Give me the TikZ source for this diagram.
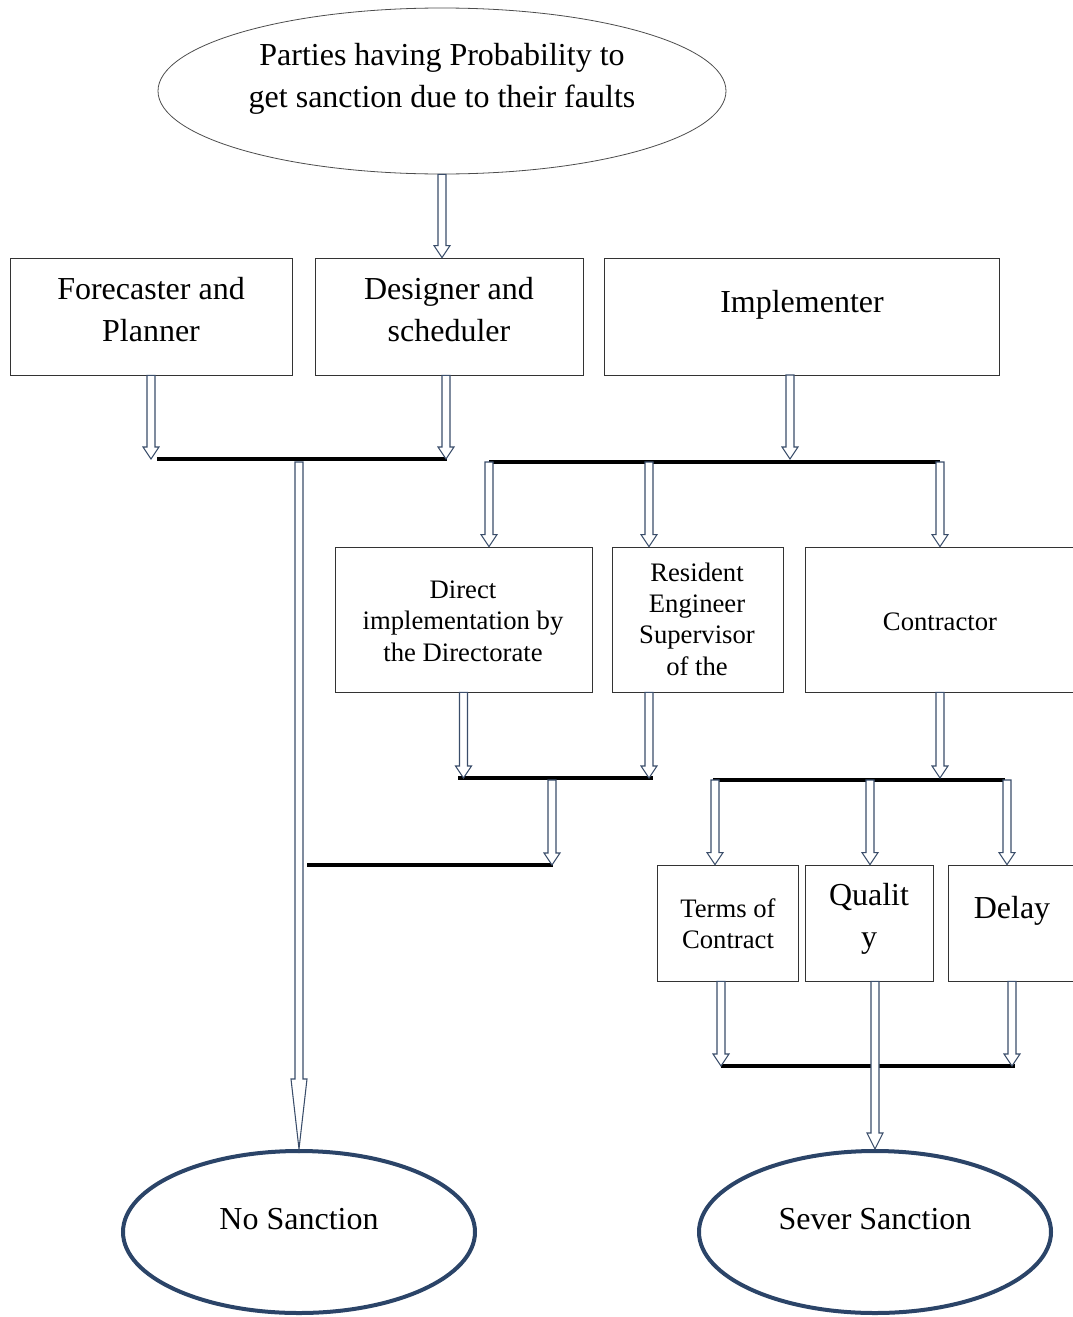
\documentclass[tikz,border=0pt]{standalone}
\usepackage{fontspec}
\setmainfont{Liberation Serif}
\usetikzlibrary{calc,shapes.geometric}
\definecolor{arrc}{HTML}{3A4D6A}
\definecolor{ellc}{HTML}{2B4468}
\tikzset{
  box/.style={draw=black!80, line width=0.6pt, rectangle, inner sep=0pt},
  topell/.style={draw=black!70, line width=0.6pt, ellipse, inner sep=0pt, minimum width=426pt, minimum height=124.5pt},
  endell/.style={draw=ellc, line width=3pt, ellipse, inner sep=0pt, minimum width=264pt, minimum height=121.5pt},
  bigtxt/.style={font=\fontsize{24}{31.5}\selectfont, align=center, inner sep=0pt},
  smalltxt/.style={font=\fontsize{20}{23.5}\selectfont, align=center, inner sep=0pt},
  hollow/.style={draw=arrc, fill=white, line width=0.8pt, line join=miter},
  bus/.style={line width=3pt, black}
}
\newcommand\harrow[3][9pt]{%
  \draw[hollow] let \p1=(#2), \p2=(#3) in
    (\x1-3pt,\y1) -- (\x1-3pt,\y2+#1) -- (\x1-6pt,\y2+#1) -- (\x1,\y2)
    -- (\x1+6pt,\y2+#1) -- (\x1+3pt,\y2+#1) -- (\x1+3pt,\y1) -- cycle;}
\begin{document}
\begin{tikzpicture}[x=0.75pt,y=-0.75pt]
\useasboundingbox (0,0) rectangle (1073,1317);
% shapes
\node[topell] (top) at (442,91) {};
\node[box, minimum width=211.5pt, minimum height=87.75pt] (fc) at (151,316.5) {};
\node[box, minimum width=201pt, minimum height=87.75pt] (des) at (449,316.5) {};
\node[box, minimum width=296.25pt, minimum height=87.75pt] (imp) at (801.5,316.5) {};
\node[box, minimum width=192.75pt, minimum height=108.75pt] (dir) at (463.5,619.5) {};
\node[box, minimum width=128.25pt, minimum height=108.75pt] (res) at (697.5,619.5) {};
\node[box, minimum width=202.5pt, minimum height=108.75pt] (con) at (940,619.5) {};
\node[box, minimum width=105.75pt, minimum height=87pt] (terms) at (727.5,923) {};
\node[box, minimum width=96pt, minimum height=87pt] (qual) at (869,923) {};
\node[box, minimum width=96pt, minimum height=87pt] (delay) at (1012,923) {};
\node[endell] (nos) at (299,1232) {};
\node[endell] (sev) at (875,1232) {};
% texts
\node[bigtxt] (topT) at (442,79) {Parties having Probability to\\get sanction due to their faults};
\node[bigtxt] (fcT) at (151,310) {Forecaster and\\Planner};
\node[bigtxt] (desT) at (449,310) {Designer and\\scheduler};
\node[bigtxt] (impT) at (802,305) {Implementer};
\node[smalltxt] (dirT) at (463,621) {Direct\\implementation by\\the Directorate};
\node[smalltxt] (resT) at (697,619) {Resident\\Engineer\\Supervisor\\of the};
\node[smalltxt] (conT) at (940,622) {Contractor};
\node[smalltxt] (termsT) at (728,924) {Terms of\\Contract};
\node[bigtxt] (qualT) at (869,919) {Qualit\\y};
\node[bigtxt] (delayT) at (1012,911) {Delay};
\node[bigtxt] (nosT) at (299,1219) {No Sanction};
\node[bigtxt] (sevT) at (875,1219) {Sever Sanction};
% bus coordinates
\coordinate (b1l) at (157,459); \coordinate (b1r) at (447,459); \coordinate (b1m) at (299,462);
\coordinate (b2l) at (489,462); \coordinate (b2r) at (940,462); \coordinate (b2m) at (649,462);
\coordinate (b3l) at (458,778); \coordinate (b3r) at (653,778); \coordinate (b3m) at (552,780);
\coordinate (b4l) at (307,865); \coordinate (b4r) at (553,865);
\coordinate (b5l) at (713,780); \coordinate (b5r) at (1005,780);
\coordinate (b5a) at (715,780); \coordinate (b5b) at (870,780); \coordinate (b5c) at (1007,780);
\coordinate (b6l) at (721,1066); \coordinate (b6r) at (1015,1066);
\coordinate (impx) at (790,375);
% bus lines
\draw[bus] (b1l) -- (b1r);
\draw[bus] (b2l) -- (b2r);
\draw[bus] (b3l) -- (b3r);
\draw[bus] (b4l) -- (b4r);
\draw[bus] (b5l) -- (b5r);
\draw[bus] (b6l) -- (b6r);
% arrows
\harrow{top.south}{top.south |- des.north}
\harrow{fc.south}{fc.south |- b1l}
\harrow{$(des.south)+(-3,0)$}{$(des.south |- b1l)+(-3,0)$}
\harrow[52.5pt]{b1m}{nos.north}
\harrow{impx}{impx |- b1l}
\harrow{b2l}{b2l |- dir.north}
\harrow{b2m}{b2m |- res.north}
\harrow{b2r}{con.north}
\harrow{dir.south}{dir.south |- b3l}
\harrow{b2m |- res.south}{b2m |- b3l}
\harrow{b3m}{b3m |- b4r}
\harrow{con.south}{con.south |- b3l}
\harrow{b5a}{b5a |- terms.north}
\harrow{b5b}{b5b |- qual.north}
\harrow{b5c}{b5c |- delay.north}
\harrow{b6l |- terms.south}{b6l}
\harrow{delay.south}{delay.south |- b6l}
\harrow[12pt]{sev.north |- qual.south}{sev.north}
\end{tikzpicture}
\end{document}
